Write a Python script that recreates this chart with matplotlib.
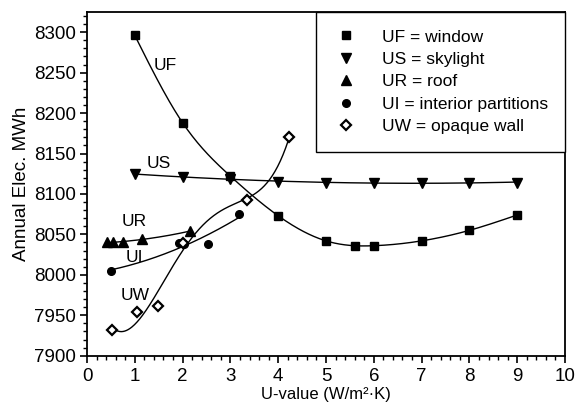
import numpy as np
import matplotlib
matplotlib.use("Agg")
import matplotlib.pyplot as plt
from matplotlib.ticker import MultipleLocator

plt.rcParams['font.family'] = ['Liberation Sans', 'DejaVu Sans']

# ---- data ----
uf_x = [1, 2, 3, 4, 5, 5.6, 6, 7, 8, 9]
uf_y = [8296, 8188, 8122, 8073, 8042, 8036, 8036, 8042, 8055, 8074]

us_x = [1, 2, 3, 4, 5, 6, 7, 8, 9]
us_y = [8125, 8121, 8118, 8115, 8114, 8114, 8114, 8114, 8114]

ur_x = [0.41, 0.55, 0.75, 1.16, 2.15]
ur_y = [8040, 8040, 8041, 8044, 8054]

ui_x = [0.5, 1.92, 2.02, 2.54, 3.17]
ui_y = [8005, 8039, 8038, 8038, 8075]

uw_x = [0.53, 1.04, 1.48, 2.0, 3.34, 4.23]
uw_y = [7932, 7954, 7961, 8039, 8093, 8170]

labels = ['UF = window', 'US = skylight', 'UR = roof',
          'UI = interior partitions', 'UW = opaque wall']


def natural_spline(x, y, xs):
    x = np.asarray(x, float); y = np.asarray(y, float)
    n = len(x)
    h = np.diff(x)
    A = np.zeros((n, n)); b = np.zeros(n)
    A[0, 0] = 1; A[-1, -1] = 1
    for i in range(1, n - 1):
        A[i, i - 1] = h[i - 1]
        A[i, i] = 2 * (h[i - 1] + h[i])
        A[i, i + 1] = h[i]
        b[i] = 3 * ((y[i + 1] - y[i]) / h[i] - (y[i] - y[i - 1]) / h[i - 1])
    c = np.linalg.solve(A, b)
    out = np.empty_like(xs)
    for k, xv in enumerate(xs):
        i = min(max(np.searchsorted(x, xv) - 1, 0), n - 2)
        dx = xv - x[i]
        bb = (y[i + 1] - y[i]) / h[i] - h[i] * (2 * c[i] + c[i + 1]) / 3
        d = (c[i + 1] - c[i]) / (3 * h[i])
        out[k] = y[i] + bb * dx + c[i] * dx ** 2 + d * dx ** 3
    return out


def polycurve(x, y, deg):
    xs = np.linspace(min(x), max(x), 200)
    return xs, np.polyval(np.polyfit(x, y, deg), xs)


fig = plt.figure(figsize=(5.77, 4.05), dpi=100)
ax = fig.add_axes([0.1508, 0.1217, 0.8284, 0.8487])

lw = 1.0
# curves
xs = np.linspace(min(uf_x), max(uf_x), 300)
ax.plot(xs, natural_spline(uf_x, uf_y, xs), color='black', lw=lw)
cx, cy = polycurve(us_x, us_y, 2); ax.plot(cx, cy, color='black', lw=lw)
cx, cy = polycurve(ur_x, ur_y, 2); ax.plot(cx, cy, color='black', lw=lw)
cx, cy = polycurve(ui_x, ui_y, 2); ax.plot(cx, cy, color='black', lw=lw)
cx, cy = polycurve(uw_x, uw_y, 4); ax.plot(cx, cy, color='black', lw=lw)

# markers
h1, = ax.plot(uf_x, uf_y, 's', color='black', ms=5.5, ls='none', label=labels[0])
h2, = ax.plot(us_x, us_y, 'v', color='black', ms=6.5, ls='none', label=labels[1])
h3, = ax.plot(ur_x, ur_y, '^', color='black', ms=6.5, ls='none', label=labels[2])
h4, = ax.plot(ui_x, ui_y, 'o', color='black', ms=5.5, ls='none', label=labels[3])
h5, = ax.plot(uw_x, uw_y, 'D', mfc='white', mec='black', mew=1.6, ms=5,
              ls='none', label=labels[4])

# curve labels
ax.text(1.4, 8259, 'UF', fontsize=12.5, va='center')
ax.text(1.25, 8138, 'US', fontsize=12.5, va='center')
ax.text(0.73, 8066, 'UR', fontsize=12.5, va='center')
ax.text(0.8, 8022, 'UI', fontsize=12.5, va='center')
ax.text(0.7, 7975, 'UW', fontsize=12.5, va='center')

ax.set_xlim(0, 10)
ax.set_ylim(7900, 8325)
ax.xaxis.set_major_locator(MultipleLocator(1))
ax.xaxis.set_minor_locator(MultipleLocator(0.2))
ax.yaxis.set_major_locator(MultipleLocator(50))
ax.yaxis.set_minor_locator(MultipleLocator(10))
ax.tick_params(which='major', direction='out', length=5, width=1.2,
               labelsize=13.5, pad=3)
ax.tick_params(axis='x', which='major', pad=4)
ax.tick_params(which='minor', direction='out', length=3, width=1)
for s in ax.spines.values():
    s.set_linewidth(1.3)

ax.set_xlabel('U-value (W/m²·K)', fontsize=12, labelpad=1.5)
ax.set_ylabel('Annual Elec. MWh', fontsize=13.5, labelpad=3)

leg = ax.legend(handles=[h1, h2, h3, h4, h5], loc='upper right',
                bbox_to_anchor=(1, 1), borderaxespad=0, fontsize=12.5,
                fancybox=False, edgecolor='black', framealpha=1,
                handletextpad=1.3, labelspacing=0.42, borderpad=1.0,
                handlelength=1.5)
leg.get_frame().set_linewidth(1.0)

fig.savefig('out.png', dpi=100)
